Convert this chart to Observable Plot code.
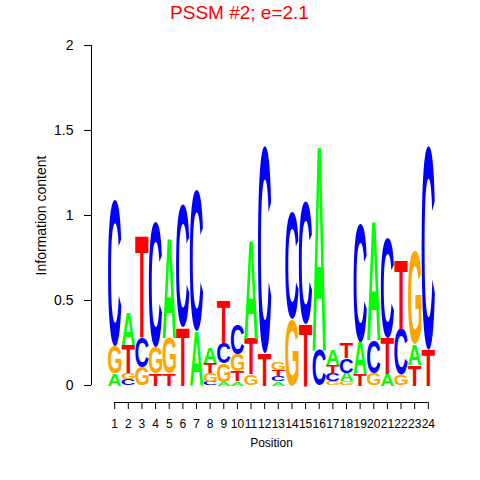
<!DOCTYPE html>
<html>
<head>
<meta charset="utf-8">
<script src="https://cdn.jsdelivr.net/npm/d3@7"></script>
<script src="https://cdn.jsdelivr.net/npm/@observablehq/plot@0.6"></script>
<style>
  html, body { margin: 0; padding: 0; background: #ffffff; }
  #chart svg { display: block; }
</style>
</head>
<body>
<div id="chart"></div>
<script>
// ---------------- data ----------------
const chartTitle = "PSSM #2; e=2.1";
const xLabel = "Position";
const yLabel = "Information content";
const positions = [1, 2, 3, 4, 5, 6, 7, 8, 9, 10, 11, 12, 13, 14, 15, 16, 17, 18, 19, 20, 21, 22, 23, 24];
const yTicks = [0, 0.5, 1, 1.5, 2];
const bases = ["A", "C", "G", "T"];
// information (bits) carried by each base at each position
const heightA = [0.07, 0.19, 0, 0, 0.59, 0, 0.32, 0.09, 0.02, 0.025, 0.58, 0, 0.025, 0, 0, 1.21, 0.09, 0.05, 0.195, 0.7, 0.065, 0, 0.122, 0];
const heightC = [0.86, 0.035, 0.176, 0.74, 0, 0.725, 0.83, 0.02, 0.12, 0.175, 0, 1.22, 0.03, 0.63, 0.72, 0.206, 0.045, 0.085, 0.695, 0.195, 0.59, 0.27, 0, 1.2];
const heightG = [0.16, 0.04, 0.105, 0.155, 0.21, 0, 0, 0.055, 0.11, 0.1, 0.065, 0, 0.042, 0.39, 0, 0, 0.025, 0.025, 0, 0.07, 0, 0.065, 0.55, 0];
const heightT = [0, 0.165, 0.6, 0.07, 0.07, 0.347, 0, 0.06, 0.25, 0.06, 0.21, 0.19, 0.038, 0, 0.365, 0, 0.05, 0.09, 0.065, 0, 0.21, 0.405, 0.118, 0.21];

// ---------------- styles ----------------
const baseColors = ["#00FF00", "#0000FF", "#FFA500", "#FF0000"];
const fontStack = '"Liberation Sans", Arial, Helvetica, sans-serif';
const xDomain = [-0.7, 25.7];
const yDomain = [-0.1, 2];

// stack letters per position, smallest at the bottom
const heightsByBase = {A: heightA, C: heightC, G: heightG, T: heightT};
const stacks = [];
positions.forEach((pos, i) => {
  const col = bases
    .map(b => ({base: b, h: heightsByBase[b][i]}))
    .filter(d => d.h > 0)
    .sort((a, b) => a.h - b.h);
  let y = 0;
  for (const d of col) {
    stacks.push({pos, base: d.base, y0: y, y1: y + d.h});
    y += d.h;
  }
});

const chart = Plot.plot({
  width: 480,
  height: 480,
  marginLeft: 91,
  marginRight: 29,
  marginTop: 45,
  marginBottom: 78,
  style: {fontFamily: fontStack, fontSize: "12px", color: "black", background: "white", overflow: "visible"},
  x: {domain: xDomain, ticks: positions, tickSize: 7, tickPadding: 10, tickFormat: d => String(d), label: null, line: false},
  y: {domain: yDomain, ticks: yTicks, tickSize: 7, tickPadding: 11, tickFormat: d => String(d), label: null, line: false},
  color: {domain: bases, range: baseColors},
  marks: [
    Plot.ruleX([xDomain[0]], {y1: yTicks[0], y2: yTicks[yTicks.length - 1], stroke: "black"}),
    Plot.ruleY([yDomain[0]], {x1: positions[0], x2: positions[positions.length - 1], stroke: "black"}),
    Plot.text(stacks, {
      x: "pos", y: "y0", text: "base", fill: "base",
      textAnchor: "start", lineAnchor: "bottom",
      fontSize: 100, fontWeight: "bold", fontFamily: fontStack,
      ariaLabel: d => "logo-" + d.base
    }),
    Plot.text([chartTitle], {frameAnchor: "top", dx: -32, dy: -40, fill: "red", fontSize: 19}),
    Plot.text([xLabel], {frameAnchor: "bottom", dy: 44, fontSize: 12, fill: "black"}),
    Plot.text([yLabel], {frameAnchor: "left", textAnchor: "middle", rotate: -90, dx: -50, dy: -8.5, fontSize: 14, fill: "black"})
  ]
});

document.getElementById("chart").append(chart);

// Stretch each glyph to fill its cell [pos-0.49, pos+0.49] x [y0, y1] using the plot's scales
(function stretchLetters() {
  const svgEl = chart.tagName.toLowerCase() === "svg" ? chart : chart.querySelector("svg");
  const xs = chart.scale("x"), ys = chart.scale("y");
  const ctx = document.createElement("canvas").getContext("2d");
  ctx.font = `bold 100px ${fontStack}`;
  const metrics = {};
  for (const b of bases) {
    const m = ctx.measureText(b);
    metrics[b] = {
      left: m.actualBoundingBoxLeft, right: m.actualBoundingBoxRight,
      ascent: m.actualBoundingBoxAscent, descent: m.actualBoundingBoxDescent
    };
  }
  let letterTexts = Array.from(svgEl.querySelectorAll('text[aria-label^="logo-"]'));
  if (letterTexts.length !== stacks.length) {
    const groups = Array.from(svgEl.querySelectorAll("g")).filter(g =>
      g.querySelectorAll(":scope > text").length === stacks.length);
    letterTexts = groups.length ? Array.from(groups[0].querySelectorAll(":scope > text")) : [];
  }
  letterTexts.forEach((el, k) => {
    const i = typeof el.__data__ === "number" ? el.__data__ : k;
    const d = stacks[i];
    const m = metrics[d.base];
    const L = xs.apply(d.pos - 0.49), R = xs.apply(d.pos + 0.49);
    const B = ys.apply(d.y0), T = ys.apply(d.y1);
    const sx = (R - L) / (m.left + m.right);
    const sy = (B - T) / (m.ascent + m.descent);
    el.setAttribute("x", 0);
    el.setAttribute("y", 0);
    el.removeAttribute("dy");
    el.setAttribute("text-anchor", "start");
    el.style.fontSize = "100px";
    el.style.fontWeight = "bold";
    el.style.fontFamily = fontStack;
    el.setAttribute("transform", `translate(${L},${T}) scale(${sx},${sy}) translate(${m.left},${m.ascent})`);
  });
  svgEl.querySelectorAll('[aria-label^="y-axis"] text').forEach(t => { t.style.fontSize = "14px"; });
})();
</script>
</body>
</html>
